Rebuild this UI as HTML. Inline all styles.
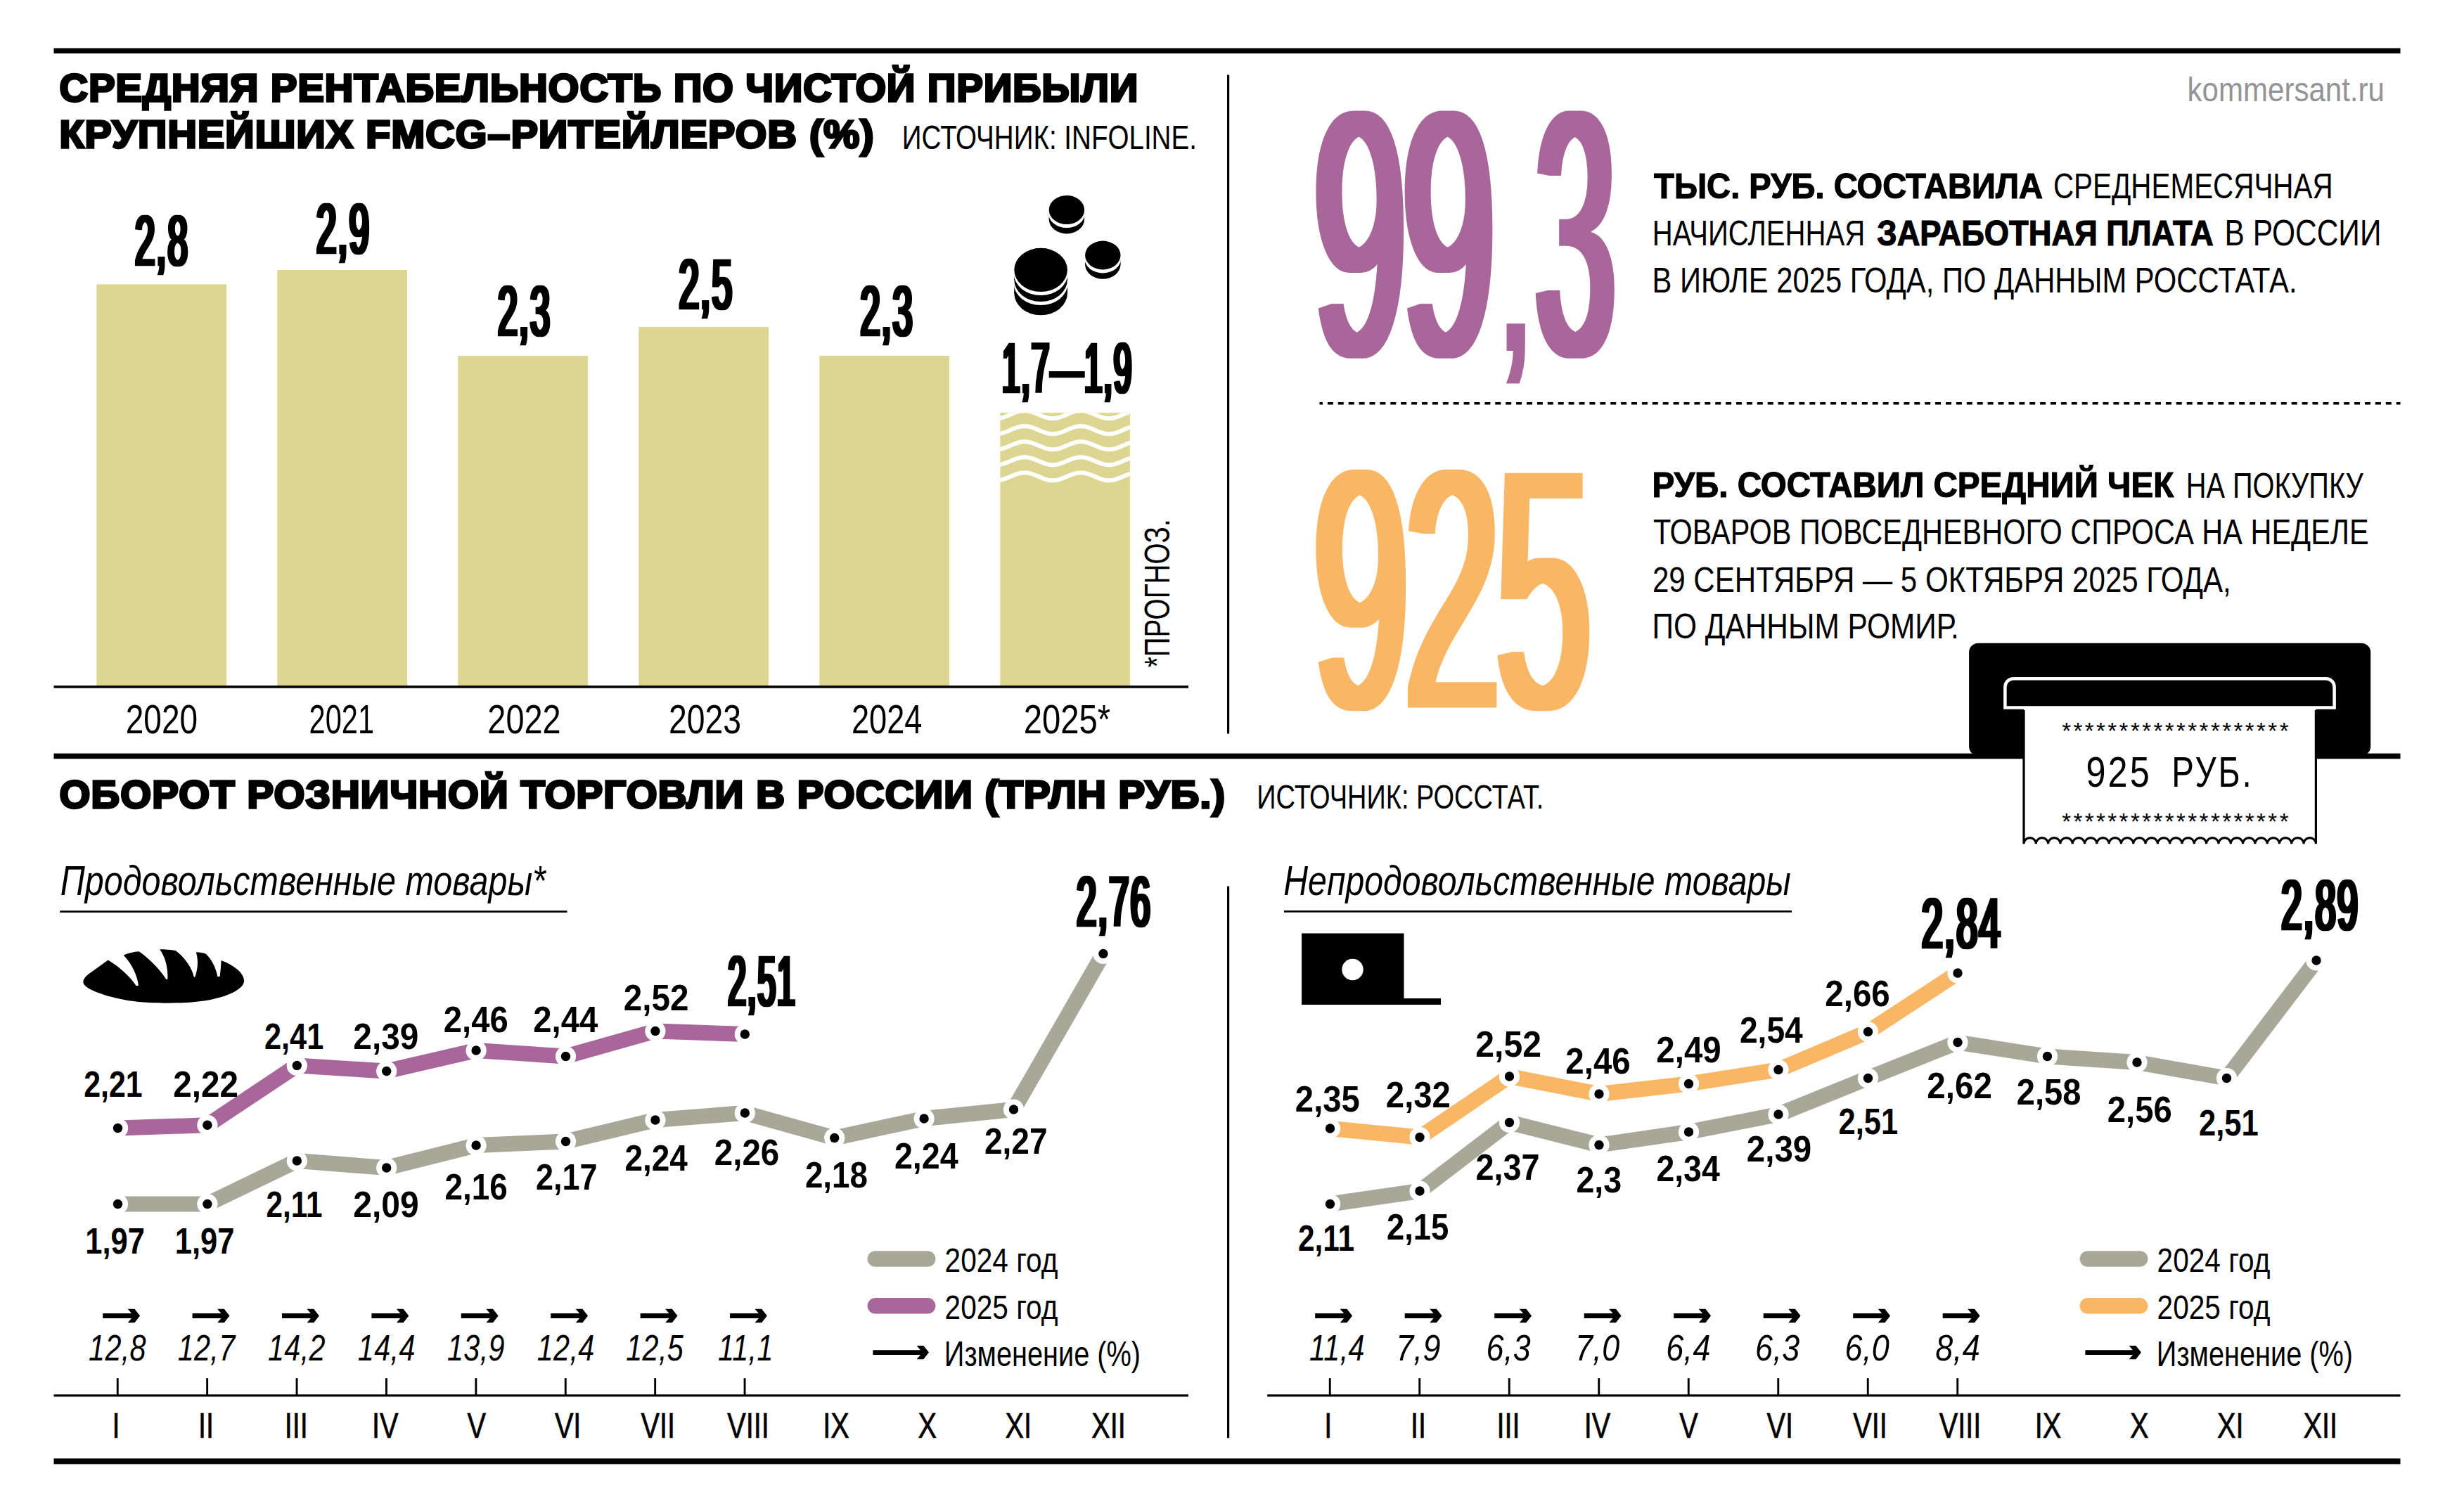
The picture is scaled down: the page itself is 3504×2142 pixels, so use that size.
<!DOCTYPE html>
<html lang="ru"><head><meta charset="utf-8"><title>Инфографика</title>
<style>
html,body{margin:0;padding:0;background:#fff}
svg{display:block}
text{font-family:"Liberation Sans",sans-serif;white-space:pre}
</style></head>
<body>
<svg width="3504" height="2142" viewBox="0 0 3504 2142">
<defs><filter id="dx1_5" x="-15%" y="-15%" width="130%" height="130%"><feMorphology operator="dilate" radius="1.5 0"/></filter><filter id="dx3" x="-15%" y="-15%" width="130%" height="130%"><feMorphology operator="dilate" radius="3 0"/></filter><filter id="dx8" x="-15%" y="-15%" width="130%" height="130%"><feMorphology operator="dilate" radius="8 0"/></filter><clipPath id="bar6"><rect x="1422.3" y="587.2" width="184.8" height="120"/></clipPath></defs>
<rect width="3504" height="2142" fill="#fff"/>
<rect x="76.50" y="68.50" width="3337.00" height="7.50" fill="#000" />
<rect x="76.50" y="1071.60" width="3337.00" height="7.70" fill="#000" />
<rect x="76.50" y="2074.40" width="3337.00" height="8.00" fill="#000" />
<rect x="1745.00" y="106.50" width="3.20" height="937.00" fill="#000" />
<rect x="1745.00" y="1260.50" width="3.20" height="784.70" fill="#000" />
<rect x="137.30" y="404.40" width="184.80" height="571.60" fill="#ddd692" />
<rect x="394.30" y="384.00" width="184.80" height="592.00" fill="#ddd692" />
<rect x="651.30" y="506.10" width="184.80" height="469.90" fill="#ddd692" />
<rect x="908.30" y="465.00" width="184.80" height="511.00" fill="#ddd692" />
<rect x="1165.30" y="506.00" width="184.80" height="470.00" fill="#ddd692" />
<rect x="1422.30" y="587.20" width="184.80" height="388.80" fill="#ddd692" />
<rect x="76.50" y="975.10" width="1613.50" height="3.60" fill="#000" />
<polyline clip-path="url(#bar6)" points="1418.0,595.08 1420.0,594.95 1422.0,594.68 1424.0,594.29 1426.0,593.78 1428.0,593.17 1430.0,592.47 1432.0,591.70 1434.0,590.88 1436.0,590.03 1438.0,589.17 1440.0,588.32 1442.0,587.50 1444.0,586.73 1446.0,586.03 1448.0,585.42 1450.0,584.91 1452.0,584.52 1454.0,584.25 1456.0,584.12 1458.0,584.12 1460.0,584.25 1462.0,584.52 1464.0,584.91 1466.0,585.42 1468.0,586.03 1470.0,586.73 1472.0,587.50 1474.0,588.32 1476.0,589.17 1478.0,590.03 1480.0,590.88 1482.0,591.70 1484.0,592.47 1486.0,593.17 1488.0,593.78 1490.0,594.29 1492.0,594.68 1494.0,594.95 1496.0,595.08 1498.0,595.08 1500.0,594.95 1502.0,594.68 1504.0,594.29 1506.0,593.78 1508.0,593.17 1510.0,592.47 1512.0,591.70 1514.0,590.88 1516.0,590.03 1518.0,589.17 1520.0,588.32 1522.0,587.50 1524.0,586.73 1526.0,586.03 1528.0,585.42 1530.0,584.91 1532.0,584.52 1534.0,584.25 1536.0,584.12 1538.0,584.12 1540.0,584.25 1542.0,584.52 1544.0,584.91 1546.0,585.42 1548.0,586.03 1550.0,586.73 1552.0,587.50 1554.0,588.32 1556.0,589.17 1558.0,590.03 1560.0,590.88 1562.0,591.70 1564.0,592.47 1566.0,593.17 1568.0,593.78 1570.0,594.29 1572.0,594.68 1574.0,594.95 1576.0,595.08 1578.0,595.08 1580.0,594.95 1582.0,594.68 1584.0,594.29 1586.0,593.78 1588.0,593.17 1590.0,592.47 1592.0,591.70 1594.0,590.88 1596.0,590.03 1598.0,589.17 1600.0,588.32 1602.0,587.50 1604.0,586.73 1606.0,586.03 1608.0,585.42 1610.0,584.91 1612.0,584.52" fill="none" stroke="#fff" stroke-width="6"/>
<polyline clip-path="url(#bar6)" points="1418.0,617.13 1420.0,617.00 1422.0,616.73 1424.0,616.34 1426.0,615.83 1428.0,615.22 1430.0,614.52 1432.0,613.75 1434.0,612.93 1436.0,612.08 1438.0,611.22 1440.0,610.37 1442.0,609.55 1444.0,608.78 1446.0,608.08 1448.0,607.47 1450.0,606.96 1452.0,606.57 1454.0,606.30 1456.0,606.17 1458.0,606.17 1460.0,606.30 1462.0,606.57 1464.0,606.96 1466.0,607.47 1468.0,608.08 1470.0,608.78 1472.0,609.55 1474.0,610.37 1476.0,611.22 1478.0,612.08 1480.0,612.93 1482.0,613.75 1484.0,614.52 1486.0,615.22 1488.0,615.83 1490.0,616.34 1492.0,616.73 1494.0,617.00 1496.0,617.13 1498.0,617.13 1500.0,617.00 1502.0,616.73 1504.0,616.34 1506.0,615.83 1508.0,615.22 1510.0,614.52 1512.0,613.75 1514.0,612.93 1516.0,612.08 1518.0,611.22 1520.0,610.37 1522.0,609.55 1524.0,608.78 1526.0,608.08 1528.0,607.47 1530.0,606.96 1532.0,606.57 1534.0,606.30 1536.0,606.17 1538.0,606.17 1540.0,606.30 1542.0,606.57 1544.0,606.96 1546.0,607.47 1548.0,608.08 1550.0,608.78 1552.0,609.55 1554.0,610.37 1556.0,611.22 1558.0,612.08 1560.0,612.93 1562.0,613.75 1564.0,614.52 1566.0,615.22 1568.0,615.83 1570.0,616.34 1572.0,616.73 1574.0,617.00 1576.0,617.13 1578.0,617.13 1580.0,617.00 1582.0,616.73 1584.0,616.34 1586.0,615.83 1588.0,615.22 1590.0,614.52 1592.0,613.75 1594.0,612.93 1596.0,612.08 1598.0,611.22 1600.0,610.37 1602.0,609.55 1604.0,608.78 1606.0,608.08 1608.0,607.47 1610.0,606.96 1612.0,606.57" fill="none" stroke="#fff" stroke-width="6"/>
<polyline clip-path="url(#bar6)" points="1418.0,639.18 1420.0,639.05 1422.0,638.78 1424.0,638.39 1426.0,637.88 1428.0,637.27 1430.0,636.57 1432.0,635.80 1434.0,634.98 1436.0,634.13 1438.0,633.27 1440.0,632.42 1442.0,631.60 1444.0,630.83 1446.0,630.13 1448.0,629.52 1450.0,629.01 1452.0,628.62 1454.0,628.35 1456.0,628.22 1458.0,628.22 1460.0,628.35 1462.0,628.62 1464.0,629.01 1466.0,629.52 1468.0,630.13 1470.0,630.83 1472.0,631.60 1474.0,632.42 1476.0,633.27 1478.0,634.13 1480.0,634.98 1482.0,635.80 1484.0,636.57 1486.0,637.27 1488.0,637.88 1490.0,638.39 1492.0,638.78 1494.0,639.05 1496.0,639.18 1498.0,639.18 1500.0,639.05 1502.0,638.78 1504.0,638.39 1506.0,637.88 1508.0,637.27 1510.0,636.57 1512.0,635.80 1514.0,634.98 1516.0,634.13 1518.0,633.27 1520.0,632.42 1522.0,631.60 1524.0,630.83 1526.0,630.13 1528.0,629.52 1530.0,629.01 1532.0,628.62 1534.0,628.35 1536.0,628.22 1538.0,628.22 1540.0,628.35 1542.0,628.62 1544.0,629.01 1546.0,629.52 1548.0,630.13 1550.0,630.83 1552.0,631.60 1554.0,632.42 1556.0,633.27 1558.0,634.13 1560.0,634.98 1562.0,635.80 1564.0,636.57 1566.0,637.27 1568.0,637.88 1570.0,638.39 1572.0,638.78 1574.0,639.05 1576.0,639.18 1578.0,639.18 1580.0,639.05 1582.0,638.78 1584.0,638.39 1586.0,637.88 1588.0,637.27 1590.0,636.57 1592.0,635.80 1594.0,634.98 1596.0,634.13 1598.0,633.27 1600.0,632.42 1602.0,631.60 1604.0,630.83 1606.0,630.13 1608.0,629.52 1610.0,629.01 1612.0,628.62" fill="none" stroke="#fff" stroke-width="6"/>
<polyline clip-path="url(#bar6)" points="1418.0,661.23 1420.0,661.10 1422.0,660.83 1424.0,660.44 1426.0,659.93 1428.0,659.32 1430.0,658.62 1432.0,657.85 1434.0,657.03 1436.0,656.18 1438.0,655.32 1440.0,654.47 1442.0,653.65 1444.0,652.88 1446.0,652.18 1448.0,651.57 1450.0,651.06 1452.0,650.67 1454.0,650.40 1456.0,650.27 1458.0,650.27 1460.0,650.40 1462.0,650.67 1464.0,651.06 1466.0,651.57 1468.0,652.18 1470.0,652.88 1472.0,653.65 1474.0,654.47 1476.0,655.32 1478.0,656.18 1480.0,657.03 1482.0,657.85 1484.0,658.62 1486.0,659.32 1488.0,659.93 1490.0,660.44 1492.0,660.83 1494.0,661.10 1496.0,661.23 1498.0,661.23 1500.0,661.10 1502.0,660.83 1504.0,660.44 1506.0,659.93 1508.0,659.32 1510.0,658.62 1512.0,657.85 1514.0,657.03 1516.0,656.18 1518.0,655.32 1520.0,654.47 1522.0,653.65 1524.0,652.88 1526.0,652.18 1528.0,651.57 1530.0,651.06 1532.0,650.67 1534.0,650.40 1536.0,650.27 1538.0,650.27 1540.0,650.40 1542.0,650.67 1544.0,651.06 1546.0,651.57 1548.0,652.18 1550.0,652.88 1552.0,653.65 1554.0,654.47 1556.0,655.32 1558.0,656.18 1560.0,657.03 1562.0,657.85 1564.0,658.62 1566.0,659.32 1568.0,659.93 1570.0,660.44 1572.0,660.83 1574.0,661.10 1576.0,661.23 1578.0,661.23 1580.0,661.10 1582.0,660.83 1584.0,660.44 1586.0,659.93 1588.0,659.32 1590.0,658.62 1592.0,657.85 1594.0,657.03 1596.0,656.18 1598.0,655.32 1600.0,654.47 1602.0,653.65 1604.0,652.88 1606.0,652.18 1608.0,651.57 1610.0,651.06 1612.0,650.67" fill="none" stroke="#fff" stroke-width="6"/>
<polyline clip-path="url(#bar6)" points="1418.0,683.28 1420.0,683.15 1422.0,682.88 1424.0,682.49 1426.0,681.98 1428.0,681.37 1430.0,680.67 1432.0,679.90 1434.0,679.08 1436.0,678.23 1438.0,677.37 1440.0,676.52 1442.0,675.70 1444.0,674.93 1446.0,674.23 1448.0,673.62 1450.0,673.11 1452.0,672.72 1454.0,672.45 1456.0,672.32 1458.0,672.32 1460.0,672.45 1462.0,672.72 1464.0,673.11 1466.0,673.62 1468.0,674.23 1470.0,674.93 1472.0,675.70 1474.0,676.52 1476.0,677.37 1478.0,678.23 1480.0,679.08 1482.0,679.90 1484.0,680.67 1486.0,681.37 1488.0,681.98 1490.0,682.49 1492.0,682.88 1494.0,683.15 1496.0,683.28 1498.0,683.28 1500.0,683.15 1502.0,682.88 1504.0,682.49 1506.0,681.98 1508.0,681.37 1510.0,680.67 1512.0,679.90 1514.0,679.08 1516.0,678.23 1518.0,677.37 1520.0,676.52 1522.0,675.70 1524.0,674.93 1526.0,674.23 1528.0,673.62 1530.0,673.11 1532.0,672.72 1534.0,672.45 1536.0,672.32 1538.0,672.32 1540.0,672.45 1542.0,672.72 1544.0,673.11 1546.0,673.62 1548.0,674.23 1550.0,674.93 1552.0,675.70 1554.0,676.52 1556.0,677.37 1558.0,678.23 1560.0,679.08 1562.0,679.90 1564.0,680.67 1566.0,681.37 1568.0,681.98 1570.0,682.49 1572.0,682.88 1574.0,683.15 1576.0,683.28 1578.0,683.28 1580.0,683.15 1582.0,682.88 1584.0,682.49 1586.0,681.98 1588.0,681.37 1590.0,680.67 1592.0,679.90 1594.0,679.08 1596.0,678.23 1598.0,677.37 1600.0,676.52 1602.0,675.70 1604.0,674.93 1606.0,674.23 1608.0,673.62 1610.0,673.11 1612.0,672.72" fill="none" stroke="#fff" stroke-width="6"/>
<rect x="1491.7" y="303.5" width="50.4" height="8.3" fill="#000"/><ellipse cx="1516.9" cy="311.8" rx="25.2" ry="20.6" fill="#000"/><ellipse cx="1516.9" cy="303.5" rx="25.8" ry="20.6" fill="#fff"/><ellipse cx="1516.9" cy="298.5" rx="25.2" ry="20.6" fill="#000"/>
<rect x="1543.1" y="368" width="50.4" height="8.3" fill="#000"/><ellipse cx="1568.3" cy="376.3" rx="25.2" ry="20.4" fill="#000"/><ellipse cx="1568.3" cy="368" rx="25.8" ry="20.4" fill="#fff"/><ellipse cx="1568.3" cy="363" rx="25.2" ry="20.4" fill="#000"/>
<rect x="1442.3" y="402.9" width="75.6" height="14.299999999999997" fill="#000"/><ellipse cx="1480.1" cy="417.2" rx="37.8" ry="31.1" fill="#000"/><ellipse cx="1480.1" cy="402.9" rx="38.4" ry="31.1" fill="#fff"/><rect x="1442.3" y="388.9" width="75.6" height="9" fill="#000"/><ellipse cx="1480.1" cy="397.9" rx="37.8" ry="31.1" fill="#000"/><ellipse cx="1480.1" cy="388.9" rx="38.4" ry="31.1" fill="#fff"/><ellipse cx="1480.1" cy="383.9" rx="37.8" ry="31.1" fill="#000"/>
<line x1="1876.5" y1="573.7" x2="3413.5" y2="573.7" stroke="#000" stroke-width="3.4" stroke-dasharray="8 6.9" stroke-dashoffset="3.5"/>
<rect x="2800.1" y="914.7" width="571.1" height="160" rx="13" fill="#000"/>
<path d="M2851.4,1006.6 V977.2 a12,12 0 0 1 12,-12 H3307.6 a12,12 0 0 1 12,12 V1006.6 Z" fill="none" stroke="#fff" stroke-width="4.5"/>
<path d="M2878.0,1006.6 V1200.2 a8.654,8.654 0 0 1 17.308,0 a8.654,8.654 0 0 1 17.308,0 a8.654,8.654 0 0 1 17.308,0 a8.654,8.654 0 0 1 17.308,0 a8.654,8.654 0 0 1 17.308,0 a8.654,8.654 0 0 1 17.308,0 a8.654,8.654 0 0 1 17.308,0 a8.654,8.654 0 0 1 17.308,0 a8.654,8.654 0 0 1 17.308,0 a8.654,8.654 0 0 1 17.308,0 a8.654,8.654 0 0 1 17.308,0 a8.654,8.654 0 0 1 17.308,0 a8.654,8.654 0 0 1 17.308,0 a8.654,8.654 0 0 1 17.308,0 a8.654,8.654 0 0 1 17.308,0 a8.654,8.654 0 0 1 17.308,0 a8.654,8.654 0 0 1 17.308,0 a8.654,8.654 0 0 1 17.308,0 a8.654,8.654 0 0 1 17.308,0 a8.654,8.654 0 0 1 17.308,0 a8.654,8.654 0 0 1 17.308,0 a8.654,8.654 0 0 1 17.308,0 a8.654,8.654 0 0 1 17.308,0 a8.654,8.654 0 0 1 17.308,0 V1006.6 Z" fill="#fff"/>
<path d="M2878.0,1010 V1200.2 a8.654,8.654 0 0 1 17.308,0 a8.654,8.654 0 0 1 17.308,0 a8.654,8.654 0 0 1 17.308,0 a8.654,8.654 0 0 1 17.308,0 a8.654,8.654 0 0 1 17.308,0 a8.654,8.654 0 0 1 17.308,0 a8.654,8.654 0 0 1 17.308,0 a8.654,8.654 0 0 1 17.308,0 a8.654,8.654 0 0 1 17.308,0 a8.654,8.654 0 0 1 17.308,0 a8.654,8.654 0 0 1 17.308,0 a8.654,8.654 0 0 1 17.308,0 a8.654,8.654 0 0 1 17.308,0 a8.654,8.654 0 0 1 17.308,0 a8.654,8.654 0 0 1 17.308,0 a8.654,8.654 0 0 1 17.308,0 a8.654,8.654 0 0 1 17.308,0 a8.654,8.654 0 0 1 17.308,0 a8.654,8.654 0 0 1 17.308,0 a8.654,8.654 0 0 1 17.308,0 a8.654,8.654 0 0 1 17.308,0 a8.654,8.654 0 0 1 17.308,0 a8.654,8.654 0 0 1 17.308,0 a8.654,8.654 0 0 1 17.308,0 V1010" fill="none" stroke="#000" stroke-width="3.2"/>
<rect x="85.20" y="1295.20" width="721.30" height="2.70" fill="#000" />
<rect x="1826.00" y="1295.00" width="722.00" height="2.70" fill="#000" />
<path transform="translate(100,1330) scale(0.10958)" d="M170,620 C160,590 180,550 230,510 L490,325 C620,400 780,540 855,660 L885,655 C870,520 790,360 690,260 C750,235 830,215 890,212 C1020,300 1160,440 1245,575 L1262,570 C1270,420 1230,280 1160,185 C1230,185 1300,190 1365,200 C1470,280 1570,400 1605,545 L1620,540 C1660,420 1660,320 1632,222 C1680,225 1730,232 1760,245 C1830,310 1890,420 1910,538 L1940,538 C1950,460 1955,400 1958,328 C2100,380 2250,480 2255,590 C2255,700 2050,800 1750,850 C1500,890 1000,900 700,840 C400,780 180,690 170,620 Z" fill="#000"/>
<rect x="1851.00" y="1327.50" width="145.50" height="101.50" fill="#000" />
<rect x="1996.00" y="1420.00" width="53.00" height="9.00" fill="#000" />
<circle cx="1923.5" cy="1379" r="15.2" fill="#fff"/>
<polyline points="167.5,1712.5 294.9,1712.5 422.3,1651.0 549.7,1661.0 677.1,1629.0 804.5,1623.5 931.9,1593.0 1059.3,1583.0 1186.7,1618.5 1314.1,1591.0 1441.5,1578.0 1568.9,1356.5" fill="none" stroke="#a8a898" stroke-width="22" stroke-linejoin="round"/>
<polyline points="167.5,1604.5 294.9,1600.3 422.3,1515.5 549.7,1523.5 677.1,1494.0 804.5,1502.5 931.9,1466.5 1059.3,1471.0" fill="none" stroke="#a8669b" stroke-width="22" stroke-linejoin="round"/>
<circle cx="167.5" cy="1712.5" r="14.6" fill="#fff"/><circle cx="167.5" cy="1712.5" r="6.7" fill="#000"/>
<circle cx="294.9" cy="1712.5" r="14.6" fill="#fff"/><circle cx="294.9" cy="1712.5" r="6.7" fill="#000"/>
<circle cx="422.3" cy="1651.0" r="14.6" fill="#fff"/><circle cx="422.3" cy="1651.0" r="6.7" fill="#000"/>
<circle cx="549.7" cy="1661.0" r="14.6" fill="#fff"/><circle cx="549.7" cy="1661.0" r="6.7" fill="#000"/>
<circle cx="677.1" cy="1629.0" r="14.6" fill="#fff"/><circle cx="677.1" cy="1629.0" r="6.7" fill="#000"/>
<circle cx="804.5" cy="1623.5" r="14.6" fill="#fff"/><circle cx="804.5" cy="1623.5" r="6.7" fill="#000"/>
<circle cx="931.9" cy="1593.0" r="14.6" fill="#fff"/><circle cx="931.9" cy="1593.0" r="6.7" fill="#000"/>
<circle cx="1059.3" cy="1583.0" r="14.6" fill="#fff"/><circle cx="1059.3" cy="1583.0" r="6.7" fill="#000"/>
<circle cx="1186.7" cy="1618.5" r="14.6" fill="#fff"/><circle cx="1186.7" cy="1618.5" r="6.7" fill="#000"/>
<circle cx="1314.1" cy="1591.0" r="14.6" fill="#fff"/><circle cx="1314.1" cy="1591.0" r="6.7" fill="#000"/>
<circle cx="1441.5" cy="1578.0" r="14.6" fill="#fff"/><circle cx="1441.5" cy="1578.0" r="6.7" fill="#000"/>
<circle cx="1568.9" cy="1356.5" r="14.6" fill="#fff"/><circle cx="1568.9" cy="1356.5" r="6.7" fill="#000"/>
<circle cx="167.5" cy="1604.5" r="14.6" fill="#fff"/><circle cx="167.5" cy="1604.5" r="6.7" fill="#000"/>
<circle cx="294.9" cy="1600.3" r="14.6" fill="#fff"/><circle cx="294.9" cy="1600.3" r="6.7" fill="#000"/>
<circle cx="422.3" cy="1515.5" r="14.6" fill="#fff"/><circle cx="422.3" cy="1515.5" r="6.7" fill="#000"/>
<circle cx="549.7" cy="1523.5" r="14.6" fill="#fff"/><circle cx="549.7" cy="1523.5" r="6.7" fill="#000"/>
<circle cx="677.1" cy="1494.0" r="14.6" fill="#fff"/><circle cx="677.1" cy="1494.0" r="6.7" fill="#000"/>
<circle cx="804.5" cy="1502.5" r="14.6" fill="#fff"/><circle cx="804.5" cy="1502.5" r="6.7" fill="#000"/>
<circle cx="931.9" cy="1466.5" r="14.6" fill="#fff"/><circle cx="931.9" cy="1466.5" r="6.7" fill="#000"/>
<circle cx="1059.3" cy="1471.0" r="14.6" fill="#fff"/><circle cx="1059.3" cy="1471.0" r="6.7" fill="#000"/>
<polyline points="1891.5,1712.5 2019.0,1694.0 2146.5,1596.5 2274.0,1628.5 2401.5,1610.0 2529.0,1585.0 2656.5,1533.5 2784.0,1482.5 2911.5,1502.5 3039.0,1511.0 3166.5,1533.5 3294.0,1366.0" fill="none" stroke="#a8a898" stroke-width="22" stroke-linejoin="round"/>
<polyline points="1891.5,1605.0 2019.0,1617.5 2146.5,1531.0 2274.0,1556.0 2401.5,1541.5 2529.0,1521.5 2656.5,1467.5 2784.0,1384.0" fill="none" stroke="#f9b665" stroke-width="22" stroke-linejoin="round"/>
<circle cx="1891.5" cy="1712.5" r="14.6" fill="#fff"/><circle cx="1891.5" cy="1712.5" r="6.7" fill="#000"/>
<circle cx="2019.0" cy="1694.0" r="14.6" fill="#fff"/><circle cx="2019.0" cy="1694.0" r="6.7" fill="#000"/>
<circle cx="2146.5" cy="1596.5" r="14.6" fill="#fff"/><circle cx="2146.5" cy="1596.5" r="6.7" fill="#000"/>
<circle cx="2274.0" cy="1628.5" r="14.6" fill="#fff"/><circle cx="2274.0" cy="1628.5" r="6.7" fill="#000"/>
<circle cx="2401.5" cy="1610.0" r="14.6" fill="#fff"/><circle cx="2401.5" cy="1610.0" r="6.7" fill="#000"/>
<circle cx="2529.0" cy="1585.0" r="14.6" fill="#fff"/><circle cx="2529.0" cy="1585.0" r="6.7" fill="#000"/>
<circle cx="2656.5" cy="1533.5" r="14.6" fill="#fff"/><circle cx="2656.5" cy="1533.5" r="6.7" fill="#000"/>
<circle cx="2784.0" cy="1482.5" r="14.6" fill="#fff"/><circle cx="2784.0" cy="1482.5" r="6.7" fill="#000"/>
<circle cx="2911.5" cy="1502.5" r="14.6" fill="#fff"/><circle cx="2911.5" cy="1502.5" r="6.7" fill="#000"/>
<circle cx="3039.0" cy="1511.0" r="14.6" fill="#fff"/><circle cx="3039.0" cy="1511.0" r="6.7" fill="#000"/>
<circle cx="3166.5" cy="1533.5" r="14.6" fill="#fff"/><circle cx="3166.5" cy="1533.5" r="6.7" fill="#000"/>
<circle cx="3294.0" cy="1366.0" r="14.6" fill="#fff"/><circle cx="3294.0" cy="1366.0" r="6.7" fill="#000"/>
<circle cx="1891.5" cy="1605.0" r="14.6" fill="#fff"/><circle cx="1891.5" cy="1605.0" r="6.7" fill="#000"/>
<circle cx="2019.0" cy="1617.5" r="14.6" fill="#fff"/><circle cx="2019.0" cy="1617.5" r="6.7" fill="#000"/>
<circle cx="2146.5" cy="1531.0" r="14.6" fill="#fff"/><circle cx="2146.5" cy="1531.0" r="6.7" fill="#000"/>
<circle cx="2274.0" cy="1556.0" r="14.6" fill="#fff"/><circle cx="2274.0" cy="1556.0" r="6.7" fill="#000"/>
<circle cx="2401.5" cy="1541.5" r="14.6" fill="#fff"/><circle cx="2401.5" cy="1541.5" r="6.7" fill="#000"/>
<circle cx="2529.0" cy="1521.5" r="14.6" fill="#fff"/><circle cx="2529.0" cy="1521.5" r="6.7" fill="#000"/>
<circle cx="2656.5" cy="1467.5" r="14.6" fill="#fff"/><circle cx="2656.5" cy="1467.5" r="6.7" fill="#000"/>
<circle cx="2784.0" cy="1384.0" r="14.6" fill="#fff"/><circle cx="2784.0" cy="1384.0" r="6.7" fill="#000"/>
<rect x="76.50" y="1983.30" width="1613.50" height="3.20" fill="#000" />
<rect x="1802.20" y="1983.30" width="1611.30" height="3.20" fill="#000" />
<rect x="165.80" y="1960.20" width="2.90" height="25.00" fill="#000" />
<rect x="293.20" y="1960.20" width="2.90" height="25.00" fill="#000" />
<rect x="420.60" y="1960.20" width="2.90" height="25.00" fill="#000" />
<rect x="548.00" y="1960.20" width="2.90" height="25.00" fill="#000" />
<rect x="675.40" y="1960.20" width="2.90" height="25.00" fill="#000" />
<rect x="802.80" y="1960.20" width="2.90" height="25.00" fill="#000" />
<rect x="930.20" y="1960.20" width="2.90" height="25.00" fill="#000" />
<rect x="1057.60" y="1960.20" width="2.90" height="25.00" fill="#000" />
<rect x="1889.80" y="1960.20" width="2.90" height="25.00" fill="#000" />
<rect x="2017.30" y="1960.20" width="2.90" height="25.00" fill="#000" />
<rect x="2144.80" y="1960.20" width="2.90" height="25.00" fill="#000" />
<rect x="2272.30" y="1960.20" width="2.90" height="25.00" fill="#000" />
<rect x="2399.80" y="1960.20" width="2.90" height="25.00" fill="#000" />
<rect x="2527.30" y="1960.20" width="2.90" height="25.00" fill="#000" />
<rect x="2654.80" y="1960.20" width="2.90" height="25.00" fill="#000" />
<rect x="2782.30" y="1960.20" width="2.90" height="25.00" fill="#000" />
<polygon points="146.2,1868.1 187.1,1868.1 181.7,1861.8 191.4,1861.8 199.1,1871.5 191.4,1881.2 181.7,1881.2 187.1,1874.9 146.2,1874.9" fill="#000"/>
<polygon points="273.6,1868.1 314.5,1868.1 309.1,1861.8 318.8,1861.8 326.5,1871.5 318.8,1881.2 309.1,1881.2 314.5,1874.9 273.6,1874.9" fill="#000"/>
<polygon points="401.0,1868.1 441.9,1868.1 436.5,1861.8 446.2,1861.8 453.9,1871.5 446.2,1881.2 436.5,1881.2 441.9,1874.9 401.0,1874.9" fill="#000"/>
<polygon points="528.4,1868.1 569.3,1868.1 563.9,1861.8 573.6,1861.8 581.3,1871.5 573.6,1881.2 563.9,1881.2 569.3,1874.9 528.4,1874.9" fill="#000"/>
<polygon points="655.8,1868.1 696.7,1868.1 691.3,1861.8 701.0,1861.8 708.7,1871.5 701.0,1881.2 691.3,1881.2 696.7,1874.9 655.8,1874.9" fill="#000"/>
<polygon points="783.2,1868.1 824.1,1868.1 818.7,1861.8 828.4,1861.8 836.1,1871.5 828.4,1881.2 818.7,1881.2 824.1,1874.9 783.2,1874.9" fill="#000"/>
<polygon points="910.6,1868.1 951.5,1868.1 946.1,1861.8 955.8,1861.8 963.5,1871.5 955.8,1881.2 946.1,1881.2 951.5,1874.9 910.6,1874.9" fill="#000"/>
<polygon points="1038.0,1868.1 1078.9,1868.1 1073.5,1861.8 1083.2,1861.8 1090.9,1871.5 1083.2,1881.2 1073.5,1881.2 1078.9,1874.9 1038.0,1874.9" fill="#000"/>
<polygon points="1870.2,1868.1 1911.1,1868.1 1905.7,1861.8 1915.4,1861.8 1923.1,1871.5 1915.4,1881.2 1905.7,1881.2 1911.1,1874.9 1870.2,1874.9" fill="#000"/>
<polygon points="1997.7,1868.1 2038.6,1868.1 2033.2,1861.8 2042.9,1861.8 2050.6,1871.5 2042.9,1881.2 2033.2,1881.2 2038.6,1874.9 1997.7,1874.9" fill="#000"/>
<polygon points="2125.2,1868.1 2166.1,1868.1 2160.7,1861.8 2170.4,1861.8 2178.1,1871.5 2170.4,1881.2 2160.7,1881.2 2166.1,1874.9 2125.2,1874.9" fill="#000"/>
<polygon points="2252.7,1868.1 2293.6,1868.1 2288.2,1861.8 2297.9,1861.8 2305.6,1871.5 2297.9,1881.2 2288.2,1881.2 2293.6,1874.9 2252.7,1874.9" fill="#000"/>
<polygon points="2380.2,1868.1 2421.1,1868.1 2415.7,1861.8 2425.4,1861.8 2433.1,1871.5 2425.4,1881.2 2415.7,1881.2 2421.1,1874.9 2380.2,1874.9" fill="#000"/>
<polygon points="2507.7,1868.1 2548.6,1868.1 2543.2,1861.8 2552.9,1861.8 2560.6,1871.5 2552.9,1881.2 2543.2,1881.2 2548.6,1874.9 2507.7,1874.9" fill="#000"/>
<polygon points="2635.2,1868.1 2676.1,1868.1 2670.7,1861.8 2680.4,1861.8 2688.1,1871.5 2680.4,1881.2 2670.7,1881.2 2676.1,1874.9 2635.2,1874.9" fill="#000"/>
<polygon points="2762.7,1868.1 2803.6,1868.1 2798.2,1861.8 2807.9,1861.8 2815.6,1871.5 2807.9,1881.2 2798.2,1881.2 2803.6,1874.9 2762.7,1874.9" fill="#000"/>
<rect x="1233.6" y="1779.3" width="96.8" height="22.5" rx="11.25" fill="#a8a898"/>
<rect x="1233.6" y="1846.1" width="96.8" height="22.5" rx="11.25" fill="#a8669b"/>
<polygon points="1241.4,1920.2 1309.0,1920.2 1303.6,1913.9 1313.3,1913.9 1321.0,1923.6 1313.3,1933.3 1303.6,1933.3 1309.0,1927.0 1241.4,1927.0" fill="#000"/>
<rect x="2957.6" y="1779.3" width="96.8" height="22.5" rx="11.25" fill="#a8a898"/>
<rect x="2957.6" y="1846.1" width="96.8" height="22.5" rx="11.25" fill="#f9b665"/>
<polygon points="2965.4,1920.2 3033.0,1920.2 3027.6,1913.9 3037.3,1913.9 3045.0,1923.6 3037.3,1933.3 3027.6,1933.3 3033.0,1927.0 2965.4,1927.0" fill="#000"/>
<text transform="translate(84.60,143.5) scale(0.9979,1)" font-size="56.10" font-weight="700" fill="#000" stroke="#000" stroke-width="3.4" vector-effect="non-scaling-stroke" stroke-linejoin="miter" stroke-miterlimit="3" letter-spacing="1.12">СРЕДНЯЯ РЕНТАБЕЛЬНОСТЬ ПО ЧИСТОЙ ПРИБЫЛИ</text>
<text transform="translate(84.46,210.10000000000002) scale(1.0220,1)" font-size="56.10" font-weight="700" fill="#000" stroke="#000" stroke-width="3.4" vector-effect="non-scaling-stroke" stroke-linejoin="miter" stroke-miterlimit="3" letter-spacing="1.12">КРУПНЕЙШИХ FMCG–РИТЕЙЛЕРОВ (%)</text>
<text transform="translate(1282.84,211.8) scale(0.8044,1)" font-size="47.97" font-weight="400" fill="#000">ИСТОЧНИК: INFOLINE.</text>
<g filter="url(#dx1_5)"><text transform="translate(191.93,376.5) scale(0.5057,1)" font-size="101.00" font-weight="400" fill="#000" stroke="#000" stroke-width="2" vector-effect="non-scaling-stroke" stroke-linejoin="miter" stroke-miterlimit="3" letter-spacing="4.04">2,8</text></g>
<g filter="url(#dx1_5)"><text transform="translate(449.93,360.2) scale(0.5057,1)" font-size="101.00" font-weight="400" fill="#000" stroke="#000" stroke-width="2" vector-effect="non-scaling-stroke" stroke-linejoin="miter" stroke-miterlimit="3" letter-spacing="4.04">2,9</text></g>
<g filter="url(#dx1_5)"><text transform="translate(707.97,477.0) scale(0.4987,1)" font-size="101.00" font-weight="400" fill="#000" stroke="#000" stroke-width="2" vector-effect="non-scaling-stroke" stroke-linejoin="miter" stroke-miterlimit="3" letter-spacing="4.04">2,3</text></g>
<g filter="url(#dx1_5)"><text transform="translate(965.41,439.0) scale(0.5102,1)" font-size="101.00" font-weight="400" fill="#000" stroke="#000" stroke-width="2" vector-effect="non-scaling-stroke" stroke-linejoin="miter" stroke-miterlimit="3" letter-spacing="4.04">2,5</text></g>
<g filter="url(#dx1_5)"><text transform="translate(1223.46,476.5) scale(0.5001,1)" font-size="101.00" font-weight="400" fill="#000" stroke="#000" stroke-width="2" vector-effect="non-scaling-stroke" stroke-linejoin="miter" stroke-miterlimit="3" letter-spacing="4.04">2,3</text></g>
<g filter="url(#dx1_5)"><text transform="translate(1424.90,558.2) scale(0.4543,1)" font-size="101.00" font-weight="400" fill="#000" stroke="#000" stroke-width="2" vector-effect="non-scaling-stroke" stroke-linejoin="miter" stroke-miterlimit="3" letter-spacing="4.04">1,7—1,9</text></g>
<text transform="translate(178.79,1042.8) scale(0.8025,1)" font-size="57.31" font-weight="400" fill="#000">2020</text>
<text transform="translate(439.61,1042.8) scale(0.7258,1)" font-size="57.31" font-weight="400" fill="#000">2021</text>
<text transform="translate(693.34,1042.8) scale(0.8183,1)" font-size="57.31" font-weight="400" fill="#000">2022</text>
<text transform="translate(950.97,1042.8) scale(0.8085,1)" font-size="57.31" font-weight="400" fill="#000">2023</text>
<text transform="translate(1210.93,1042.8) scale(0.7883,1)" font-size="57.31" font-weight="400" fill="#000">2024</text>
<text transform="translate(1455.83,1042.8) scale(0.8239,1)" font-size="57.31" font-weight="400" fill="#000">2025*</text>
<text transform="translate(1663,948.6) rotate(-90) translate(-0.62,0) scale(0.7736,1)" font-size="50.00" font-weight="400" fill="#000">*ПРОГНОЗ.</text>
<text transform="translate(3110.57,144.4) scale(0.8661,1)" font-size="48.55" font-weight="400" fill="#939498">kommersant.ru</text>
<g filter="url(#dx8)"><text transform="translate(1868.36,505) scale(0.4729,1)" font-size="497.85" font-weight="400" fill="#a8669b" letter-spacing="-9.96">99</text></g>
<g filter="url(#dx3)"><text transform="translate(2125.77,498.991683991684) scale(0.5870,1)" font-size="362.76" font-weight="400" fill="#a8669b">,</text></g>
<g filter="url(#dx8)"><text transform="translate(2183.98,505) scale(0.4071,1)" font-size="497.85" font-weight="400" fill="#a8669b">3</text></g>
<g filter="url(#dx8)"><text transform="translate(1867.94,1006.6) scale(0.4993,1)" font-size="485.24" font-weight="400" fill="#f9b665" letter-spacing="-9.70">925</text></g>
<text transform="translate(2352.07,281.79999999999995) scale(0.9603,1)" font-size="49.13" font-weight="700" fill="#000" stroke="#000" stroke-width="1.2" vector-effect="non-scaling-stroke" stroke-linejoin="miter" stroke-miterlimit="3">ТЫС. РУБ. СОСТАВИЛА</text>
<text transform="translate(2919.95,282.4) scale(0.7944,1)" font-size="50.87" font-weight="400" fill="#000">СРЕДНЕМЕСЯЧНАЯ</text>
<text transform="translate(2349.71,349.3) scale(0.7886,1)" font-size="50.87" font-weight="400" fill="#000">НАЧИСЛЕННАЯ</text>
<text transform="translate(2669.28,348.7) scale(0.9219,1)" font-size="49.13" font-weight="700" fill="#000" stroke="#000" stroke-width="1.2" vector-effect="non-scaling-stroke" stroke-linejoin="miter" stroke-miterlimit="3">ЗАРАБОТНАЯ ПЛАТА</text>
<text transform="translate(3163.52,349.3) scale(0.8349,1)" font-size="50.87" font-weight="400" fill="#000">В РОССИИ</text>
<text transform="translate(2349.57,416.3) scale(0.8212,1)" font-size="50.87" font-weight="400" fill="#000">В ИЮЛЕ 2025 ГОДА, ПО ДАННЫМ РОССТАТА.</text>
<text transform="translate(2349.42,706.9) scale(0.9681,1)" font-size="49.13" font-weight="700" fill="#000" stroke="#000" stroke-width="1.2" vector-effect="non-scaling-stroke" stroke-linejoin="miter" stroke-miterlimit="3">РУБ. СОСТАВИЛ СРЕДНИЙ ЧЕК</text>
<text transform="translate(3108.74,707.5) scale(0.7815,1)" font-size="50.87" font-weight="400" fill="#000">НА ПОКУПКУ</text>
<text transform="translate(2351.07,774) scale(0.8153,1)" font-size="50.87" font-weight="400" fill="#000">ТОВАРОВ ПОВСЕДНЕВНОГО СПРОСА НА НЕДЕЛЕ</text>
<text transform="translate(2349.88,841.5) scale(0.8393,1)" font-size="50.14" font-weight="400" fill="#000">29 СЕНТЯБРЯ — 5 ОКТЯБРЯ 2025 ГОДА,</text>
<text transform="translate(2349.56,908) scale(0.8335,1)" font-size="50.87" font-weight="400" fill="#000">ПО ДАННЫМ РОМИР.</text>
<text transform="translate(2932.16,1050.8) scale(0.9797,1)" font-size="34.00" font-weight="400" fill="#000" letter-spacing="3.40">********************</text>
<text transform="translate(2932.16,1180) scale(0.9797,1)" font-size="34.00" font-weight="400" fill="#000" letter-spacing="3.40">********************</text>
<text transform="translate(2966.54,1119.1) scale(0.8321,1)" font-size="60.60" font-weight="400" fill="#000" letter-spacing="3.64">925</text>
<text transform="translate(3088.21,1119.1) scale(0.7711,1)" font-size="61.48" font-weight="400" fill="#000" letter-spacing="3.69">РУБ.</text>
<text transform="translate(84.59,1148.6) scale(1.0053,1)" font-size="56.10" font-weight="700" fill="#000" stroke="#000" stroke-width="3.4" vector-effect="non-scaling-stroke" stroke-linejoin="miter" stroke-miterlimit="3" letter-spacing="1.12">ОБОРОТ РОЗНИЧНОЙ ТОРГОВЛИ В РОССИИ (ТРЛН РУБ.)</text>
<text transform="translate(1787.19,1149.6) scale(0.7916,1)" font-size="47.97" font-weight="400" fill="#000">ИСТОЧНИК: РОССТАТ.</text>
<text transform="translate(85.71,1273.2) scale(0.8134,1)" font-size="59.59" font-weight="400" font-style="italic" fill="#000">Продовольственные товары*</text>
<text transform="translate(1825.22,1272.8) scale(0.8096,1)" font-size="59.59" font-weight="400" font-style="italic" fill="#000">Непродовольственные товары</text>
<text transform="translate(119.21,1560) scale(0.8316,1)" font-size="51.58" font-weight="700" fill="#000">2,21</text>
<text transform="translate(246.15,1560) scale(0.9241,1)" font-size="51.58" font-weight="700" fill="#000">2,22</text>
<text transform="translate(376.00,1492) scale(0.8388,1)" font-size="51.58" font-weight="700" fill="#000">2,41</text>
<text transform="translate(502.34,1492) scale(0.9257,1)" font-size="51.58" font-weight="700" fill="#000">2,39</text>
<text transform="translate(630.86,1468) scale(0.9149,1)" font-size="51.58" font-weight="700" fill="#000">2,46</text>
<text transform="translate(758.36,1468) scale(0.9154,1)" font-size="51.58" font-weight="700" fill="#000">2,44</text>
<text transform="translate(886.85,1436.5) scale(0.9220,1)" font-size="51.58" font-weight="700" fill="#000">2,52</text>
<text transform="translate(121.26,1783) scale(0.8433,1)" font-size="51.58" font-weight="700" fill="#000">1,97</text>
<text transform="translate(248.76,1783) scale(0.8433,1)" font-size="51.58" font-weight="700" fill="#000">1,97</text>
<text transform="translate(378.53,1730.5) scale(0.8217,1)" font-size="51.58" font-weight="700" fill="#000">2,11</text>
<text transform="translate(502.34,1730.5) scale(0.9309,1)" font-size="51.58" font-weight="700" fill="#000">2,09</text>
<text transform="translate(632.41,1705.5) scale(0.8891,1)" font-size="51.58" font-weight="700" fill="#000">2,16</text>
<text transform="translate(761.94,1692) scale(0.8720,1)" font-size="51.58" font-weight="700" fill="#000">2,17</text>
<text transform="translate(888.41,1664.5) scale(0.8900,1)" font-size="51.58" font-weight="700" fill="#000">2,24</text>
<text transform="translate(1015.85,1656.5) scale(0.9201,1)" font-size="51.58" font-weight="700" fill="#000">2,26</text>
<text transform="translate(1144.91,1689) scale(0.8865,1)" font-size="51.58" font-weight="700" fill="#000">2,18</text>
<text transform="translate(1271.88,1661.5) scale(0.9052,1)" font-size="51.58" font-weight="700" fill="#000">2,24</text>
<text transform="translate(1399.90,1640.5) scale(0.8928,1)" font-size="51.58" font-weight="700" fill="#000">2,27</text>
<g filter="url(#dx1_5)"><text transform="translate(1035.17,1429.5) scale(0.4580,1)" font-size="101.00" font-weight="400" fill="#000" stroke="#000" stroke-width="2" vector-effect="non-scaling-stroke" stroke-linejoin="miter" stroke-miterlimit="3" letter-spacing="4.04">2,51</text></g>
<g filter="url(#dx1_5)"><text transform="translate(1530.95,1316.5) scale(0.5021,1)" font-size="101.00" font-weight="400" fill="#000" stroke="#000" stroke-width="2" vector-effect="non-scaling-stroke" stroke-linejoin="miter" stroke-miterlimit="3" letter-spacing="4.04">2,76</text></g>
<text transform="translate(1841.86,1580.5) scale(0.9160,1)" font-size="51.58" font-weight="700" fill="#000">2,35</text>
<text transform="translate(1970.86,1574.5) scale(0.9168,1)" font-size="51.58" font-weight="700" fill="#000">2,32</text>
<text transform="translate(2098.33,1503) scale(0.9324,1)" font-size="51.58" font-weight="700" fill="#000">2,52</text>
<text transform="translate(2226.35,1527) scale(0.9201,1)" font-size="51.58" font-weight="700" fill="#000">2,46</text>
<text transform="translate(2355.35,1510.5) scale(0.9206,1)" font-size="51.58" font-weight="700" fill="#000">2,49</text>
<text transform="translate(2473.90,1483) scale(0.8951,1)" font-size="51.58" font-weight="700" fill="#000">2,54</text>
<text transform="translate(2595.35,1430.5) scale(0.9201,1)" font-size="51.58" font-weight="700" fill="#000">2,66</text>
<text transform="translate(1846.03,1779) scale(0.8217,1)" font-size="51.58" font-weight="700" fill="#000">2,11</text>
<text transform="translate(1971.93,1763) scale(0.8800,1)" font-size="51.58" font-weight="700" fill="#000">2,15</text>
<text transform="translate(2098.38,1678) scale(0.9084,1)" font-size="51.58" font-weight="700" fill="#000">2,37</text>
<text transform="translate(2241.38,1695.5) scale(0.9038,1)" font-size="51.58" font-weight="700" fill="#000">2,3</text>
<text transform="translate(2355.39,1679.5) scale(0.9002,1)" font-size="51.58" font-weight="700" fill="#000">2,34</text>
<text transform="translate(2483.85,1651.5) scale(0.9206,1)" font-size="51.58" font-weight="700" fill="#000">2,39</text>
<text transform="translate(2614.49,1613) scale(0.8440,1)" font-size="51.58" font-weight="700" fill="#000">2,51</text>
<text transform="translate(2740.35,1561.5) scale(0.9220,1)" font-size="51.58" font-weight="700" fill="#000">2,62</text>
<text transform="translate(2867.87,1570.5) scale(0.9123,1)" font-size="51.58" font-weight="700" fill="#000">2,58</text>
<text transform="translate(2996.86,1595.5) scale(0.9149,1)" font-size="51.58" font-weight="700" fill="#000">2,56</text>
<text transform="translate(3126.99,1614.5) scale(0.8440,1)" font-size="51.58" font-weight="700" fill="#000">2,51</text>
<g filter="url(#dx1_5)"><text transform="translate(2732.78,1347.5) scale(0.5357,1)" font-size="101.00" font-weight="400" fill="#000" stroke="#000" stroke-width="2" vector-effect="non-scaling-stroke" stroke-linejoin="miter" stroke-miterlimit="3" letter-spacing="4.04">2,84</text></g>
<g filter="url(#dx1_5)"><text transform="translate(3244.36,1322.0) scale(0.5205,1)" font-size="101.00" font-weight="400" fill="#000" stroke="#000" stroke-width="2" vector-effect="non-scaling-stroke" stroke-linejoin="miter" stroke-miterlimit="3" letter-spacing="4.04">2,89</text></g>
<text transform="translate(159.39,2044.7) scale(0.7800,1)" font-size="50.87" font-weight="400" fill="#000" stroke="#000" stroke-width="0.6" vector-effect="non-scaling-stroke" stroke-linejoin="miter" stroke-miterlimit="3">I</text>
<text transform="translate(282.08,2044.7) scale(0.7800,1)" font-size="50.87" font-weight="400" fill="#000" stroke="#000" stroke-width="0.6" vector-effect="non-scaling-stroke" stroke-linejoin="miter" stroke-miterlimit="3">II</text>
<text transform="translate(404.76,2044.7) scale(0.7800,1)" font-size="50.87" font-weight="400" fill="#000" stroke="#000" stroke-width="0.6" vector-effect="non-scaling-stroke" stroke-linejoin="miter" stroke-miterlimit="3">III</text>
<text transform="translate(529.01,2044.7) scale(0.7800,1)" font-size="50.87" font-weight="400" fill="#000" stroke="#000" stroke-width="0.6" vector-effect="non-scaling-stroke" stroke-linejoin="miter" stroke-miterlimit="3">IV</text>
<text transform="translate(664.47,2044.7) scale(0.7800,1)" font-size="50.87" font-weight="400" fill="#000" stroke="#000" stroke-width="0.6" vector-effect="non-scaling-stroke" stroke-linejoin="miter" stroke-miterlimit="3">V</text>
<text transform="translate(788.90,2044.7) scale(0.7800,1)" font-size="50.87" font-weight="400" fill="#000" stroke="#000" stroke-width="0.6" vector-effect="non-scaling-stroke" stroke-linejoin="miter" stroke-miterlimit="3">VI</text>
<text transform="translate(911.59,2044.7) scale(0.7800,1)" font-size="50.87" font-weight="400" fill="#000" stroke="#000" stroke-width="0.6" vector-effect="non-scaling-stroke" stroke-linejoin="miter" stroke-miterlimit="3">VII</text>
<text transform="translate(1034.27,2044.7) scale(0.7800,1)" font-size="50.87" font-weight="400" fill="#000" stroke="#000" stroke-width="0.6" vector-effect="non-scaling-stroke" stroke-linejoin="miter" stroke-miterlimit="3">VIII</text>
<text transform="translate(1170.34,2044.7) scale(0.7800,1)" font-size="50.87" font-weight="400" fill="#000" stroke="#000" stroke-width="0.6" vector-effect="non-scaling-stroke" stroke-linejoin="miter" stroke-miterlimit="3">IX</text>
<text transform="translate(1305.44,2044.7) scale(0.7800,1)" font-size="50.87" font-weight="400" fill="#000" stroke="#000" stroke-width="0.6" vector-effect="non-scaling-stroke" stroke-linejoin="miter" stroke-miterlimit="3">X</text>
<text transform="translate(1429.54,2044.7) scale(0.7800,1)" font-size="50.87" font-weight="400" fill="#000" stroke="#000" stroke-width="0.6" vector-effect="non-scaling-stroke" stroke-linejoin="miter" stroke-miterlimit="3">XI</text>
<text transform="translate(1552.23,2044.7) scale(0.7800,1)" font-size="50.87" font-weight="400" fill="#000" stroke="#000" stroke-width="0.6" vector-effect="non-scaling-stroke" stroke-linejoin="miter" stroke-miterlimit="3">XII</text>
<text transform="translate(1883.29,2044.7) scale(0.7800,1)" font-size="50.87" font-weight="400" fill="#000" stroke="#000" stroke-width="0.6" vector-effect="non-scaling-stroke" stroke-linejoin="miter" stroke-miterlimit="3">I</text>
<text transform="translate(2005.93,2044.7) scale(0.7800,1)" font-size="50.87" font-weight="400" fill="#000" stroke="#000" stroke-width="0.6" vector-effect="non-scaling-stroke" stroke-linejoin="miter" stroke-miterlimit="3">II</text>
<text transform="translate(2128.56,2044.7) scale(0.7800,1)" font-size="50.87" font-weight="400" fill="#000" stroke="#000" stroke-width="0.6" vector-effect="non-scaling-stroke" stroke-linejoin="miter" stroke-miterlimit="3">III</text>
<text transform="translate(2252.76,2044.7) scale(0.7800,1)" font-size="50.87" font-weight="400" fill="#000" stroke="#000" stroke-width="0.6" vector-effect="non-scaling-stroke" stroke-linejoin="miter" stroke-miterlimit="3">IV</text>
<text transform="translate(2388.17,2044.7) scale(0.7800,1)" font-size="50.87" font-weight="400" fill="#000" stroke="#000" stroke-width="0.6" vector-effect="non-scaling-stroke" stroke-linejoin="miter" stroke-miterlimit="3">V</text>
<text transform="translate(2512.55,2044.7) scale(0.7800,1)" font-size="50.87" font-weight="400" fill="#000" stroke="#000" stroke-width="0.6" vector-effect="non-scaling-stroke" stroke-linejoin="miter" stroke-miterlimit="3">VI</text>
<text transform="translate(2635.19,2044.7) scale(0.7800,1)" font-size="50.87" font-weight="400" fill="#000" stroke="#000" stroke-width="0.6" vector-effect="non-scaling-stroke" stroke-linejoin="miter" stroke-miterlimit="3">VII</text>
<text transform="translate(2757.82,2044.7) scale(0.7800,1)" font-size="50.87" font-weight="400" fill="#000" stroke="#000" stroke-width="0.6" vector-effect="non-scaling-stroke" stroke-linejoin="miter" stroke-miterlimit="3">VIII</text>
<text transform="translate(2893.84,2044.7) scale(0.7800,1)" font-size="50.87" font-weight="400" fill="#000" stroke="#000" stroke-width="0.6" vector-effect="non-scaling-stroke" stroke-linejoin="miter" stroke-miterlimit="3">IX</text>
<text transform="translate(3028.89,2044.7) scale(0.7800,1)" font-size="50.87" font-weight="400" fill="#000" stroke="#000" stroke-width="0.6" vector-effect="non-scaling-stroke" stroke-linejoin="miter" stroke-miterlimit="3">X</text>
<text transform="translate(3152.94,2044.7) scale(0.7800,1)" font-size="50.87" font-weight="400" fill="#000" stroke="#000" stroke-width="0.6" vector-effect="non-scaling-stroke" stroke-linejoin="miter" stroke-miterlimit="3">XI</text>
<text transform="translate(3275.58,2044.7) scale(0.7800,1)" font-size="50.87" font-weight="400" fill="#000" stroke="#000" stroke-width="0.6" vector-effect="non-scaling-stroke" stroke-linejoin="miter" stroke-miterlimit="3">XII</text>
<text transform="translate(126.02,1935) scale(0.8000,1)" font-size="51.58" font-weight="400" font-style="italic" fill="#000" letter-spacing="0.52">12,8</text>
<text transform="translate(252.66,1935) scale(0.8000,1)" font-size="51.58" font-weight="400" font-style="italic" fill="#000" letter-spacing="0.52">12,7</text>
<text transform="translate(381.00,1935) scale(0.8000,1)" font-size="51.58" font-weight="400" font-style="italic" fill="#000" letter-spacing="0.52">14,2</text>
<text transform="translate(508.87,1935) scale(0.8000,1)" font-size="51.58" font-weight="400" font-style="italic" fill="#000" letter-spacing="0.52">14,4</text>
<text transform="translate(635.92,1935) scale(0.8000,1)" font-size="51.58" font-weight="400" font-style="italic" fill="#000" letter-spacing="0.52">13,9</text>
<text transform="translate(763.67,1935) scale(0.8000,1)" font-size="51.58" font-weight="400" font-style="italic" fill="#000" letter-spacing="0.52">12,4</text>
<text transform="translate(890.24,1935) scale(0.8000,1)" font-size="51.58" font-weight="400" font-style="italic" fill="#000" letter-spacing="0.52">12,5</text>
<text transform="translate(1020.97,1935) scale(0.8000,1)" font-size="51.58" font-weight="400" font-style="italic" fill="#000" letter-spacing="0.52">11,1</text>
<text transform="translate(1862.00,1935) scale(0.8000,1)" font-size="51.58" font-weight="400" font-style="italic" fill="#000" letter-spacing="0.52">11,4</text>
<text transform="translate(1985.20,1935) scale(0.8700,1)" font-size="51.58" font-weight="400" font-style="italic" fill="#000" letter-spacing="0.52">7,9</text>
<text transform="translate(2113.50,1935) scale(0.8700,1)" font-size="51.58" font-weight="400" font-style="italic" fill="#000" letter-spacing="0.52">6,3</text>
<text transform="translate(2239.93,1935) scale(0.8700,1)" font-size="51.58" font-weight="400" font-style="italic" fill="#000" letter-spacing="0.52">7,0</text>
<text transform="translate(2369.15,1935) scale(0.8700,1)" font-size="51.58" font-weight="400" font-style="italic" fill="#000" letter-spacing="0.52">6,4</text>
<text transform="translate(2496.00,1935) scale(0.8700,1)" font-size="51.58" font-weight="400" font-style="italic" fill="#000" letter-spacing="0.52">6,3</text>
<text transform="translate(2623.49,1935) scale(0.8700,1)" font-size="51.58" font-weight="400" font-style="italic" fill="#000" letter-spacing="0.52">6,0</text>
<text transform="translate(2752.31,1935) scale(0.8700,1)" font-size="51.58" font-weight="400" font-style="italic" fill="#000" letter-spacing="0.52">8,4</text>
<text transform="translate(1343.56,1809.2) scale(0.8337,1)" font-size="48.71" font-weight="400" fill="#000">2024 год</text>
<text transform="translate(1343.56,1876.4) scale(0.8337,1)" font-size="48.71" font-weight="400" fill="#000">2025 год</text>
<text transform="translate(1342.84,1943.2) scale(0.8041,1)" font-size="49.42" font-weight="400" fill="#000">Изменение (%)</text>
<text transform="translate(3067.56,1809.2) scale(0.8337,1)" font-size="48.71" font-weight="400" fill="#000">2024 год</text>
<text transform="translate(3067.56,1876.4) scale(0.8337,1)" font-size="48.71" font-weight="400" fill="#000">2025 год</text>
<text transform="translate(3066.84,1943.2) scale(0.8041,1)" font-size="49.42" font-weight="400" fill="#000">Изменение (%)</text>
</svg>
</body></html>
